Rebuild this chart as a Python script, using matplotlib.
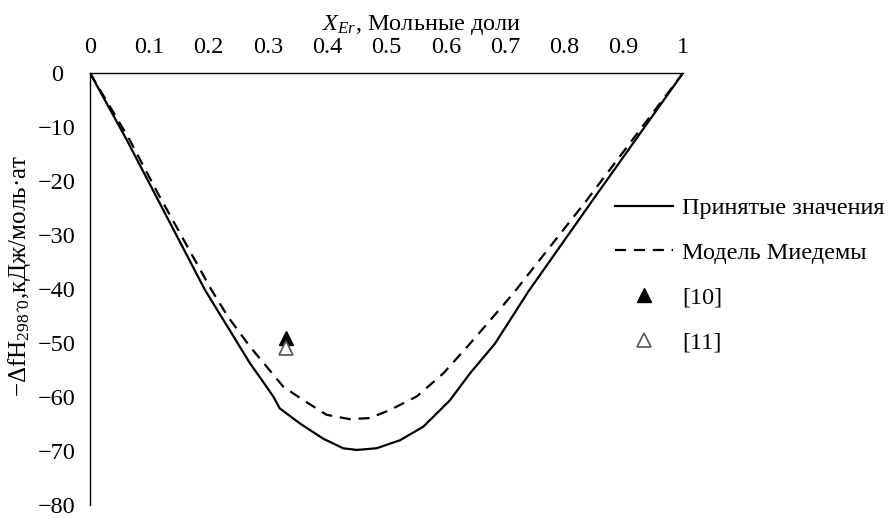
import matplotlib
matplotlib.use("Agg")
import matplotlib.pyplot as plt

plt.rcParams['font.family'] = ['Liberation Serif', 'DejaVu Serif']
plt.rcParams['mathtext.fontset'] = 'custom'
plt.rcParams['mathtext.rm'] = 'Liberation Serif'
plt.rcParams['mathtext.it'] = 'Liberation Serif:italic'
plt.rcParams['mathtext.bf'] = 'Liberation Serif:bold'

# accepted values (solid)
x_accepted = [0, 0.062, 0.194, 0.222, 0.270, 0.292, 0.309, 0.320, 0.354, 0.393, 0.427,
              0.450, 0.483, 0.523, 0.562, 0.607, 0.641, 0.683, 0.739, 0.848, 1.0]
y_accepted = [0, -12.4, -40.2, -45.2, -53.8, -57.2, -59.9, -62.1, -64.9, -67.7, -69.5,
              -69.8, -69.5, -68.0, -65.5, -60.6, -55.6, -50.1, -40.5, -23.5, 0]

# Miedema model (dashed)
x_miedema = [0, 0.067, 0.114, 0.205, 0.233, 0.270, 0.298, 0.326, 0.360, 0.399, 0.438,
             0.472, 0.506, 0.551, 0.596, 0.641, 0.714, 0.838, 1.0]
y_miedema = [0, -12.4, -22.2, -40.2, -45.2, -50.7, -54.4, -58.1, -60.6, -63.3, -64.1,
             -63.9, -62.4, -59.9, -55.6, -50.1, -40.8, -23.5, 0]

# experimental points
x_ref10 = [0.330]
y_ref10 = [-49.1]
x_ref11 = [0.330]
y_ref11 = [-51.0]

x_ticks = [0, 0.1, 0.2, 0.3, 0.4, 0.5, 0.6, 0.7, 0.8, 0.9, 1]
x_ticklabels = ['0', '0.1', '0.2', '0.3', '0.4', '0.5', '0.6', '0.7', '0.8', '0.9', '1']
y_ticks = [0, -10, -20, -30, -40, -50, -60, -70, -80]
y_ticklabels = ['0', '\u221210', '\u221220', '\u221230', '\u221240', '\u221250',
                '\u221260', '\u221270', '\u221280']

FS = 17.5
W, H = 891, 518
fig = plt.figure(figsize=(W / 100, H / 100), dpi=100)
ax = fig.add_axes([90 / W, 1 - 505 / H, (683 - 90) / W, (505 - 73) / H])

ax.plot(x_accepted, y_accepted, color='black', lw=1.6, label='Принятые значения',
        solid_joinstyle='round')
ax.plot(x_miedema, y_miedema, color='black', lw=1.6, linestyle=(0, (5, 3.5)),
        label='Модель Миедемы')
ax.plot(x_ref10, y_ref10, linestyle='none', marker='^', markersize=10,
        markerfacecolor='black', markeredgecolor='black', label='[10]')
ax.plot(x_ref11, y_ref11, linestyle='none', marker='^', markersize=10,
        markerfacecolor='white', markeredgecolor='#555555', markeredgewidth=1.2,
        label='[11]')

ax.set_xlim(0, 1)
ax.set_ylim(-80, 0)
ax.xaxis.tick_top()
ax.set_xticks(x_ticks)
ax.set_xticklabels(x_ticklabels, fontsize=FS)
ax.set_yticks(y_ticks)
ax.set_yticklabels(y_ticklabels, fontsize=FS, ha='center')
ax.tick_params(axis='x', length=0, pad=11)
ax.tick_params(axis='y', length=0, pad=24)

for s in ['right', 'bottom']:
    ax.spines[s].set_visible(False)
for s in ['top', 'left']:
    ax.spines[s].set_linewidth(1.0)
    ax.spines[s].set_color('black')

fig.text(322 / W, 1 - 30 / H, r'$X_{Er}$, Мольные доли', fontsize=FS,
         ha='left', va='baseline')
fig.text(20 / W, 1 - 397 / H, '\u2212\u0394fH$_{298\u02c60}$,кДж/моль·ат',
         fontsize=18, rotation=90, ha='center', va='bottom')

ax.legend(loc='upper left', bbox_to_anchor=(615 / W, 1 - 197 / H),
          bbox_transform=fig.transFigure, frameon=False, fontsize=FS,
          handlelength=2.4, handletextpad=0.37, labelspacing=0.94,
          borderpad=0, borderaxespad=0)

fig.savefig('out.png', dpi=100)
